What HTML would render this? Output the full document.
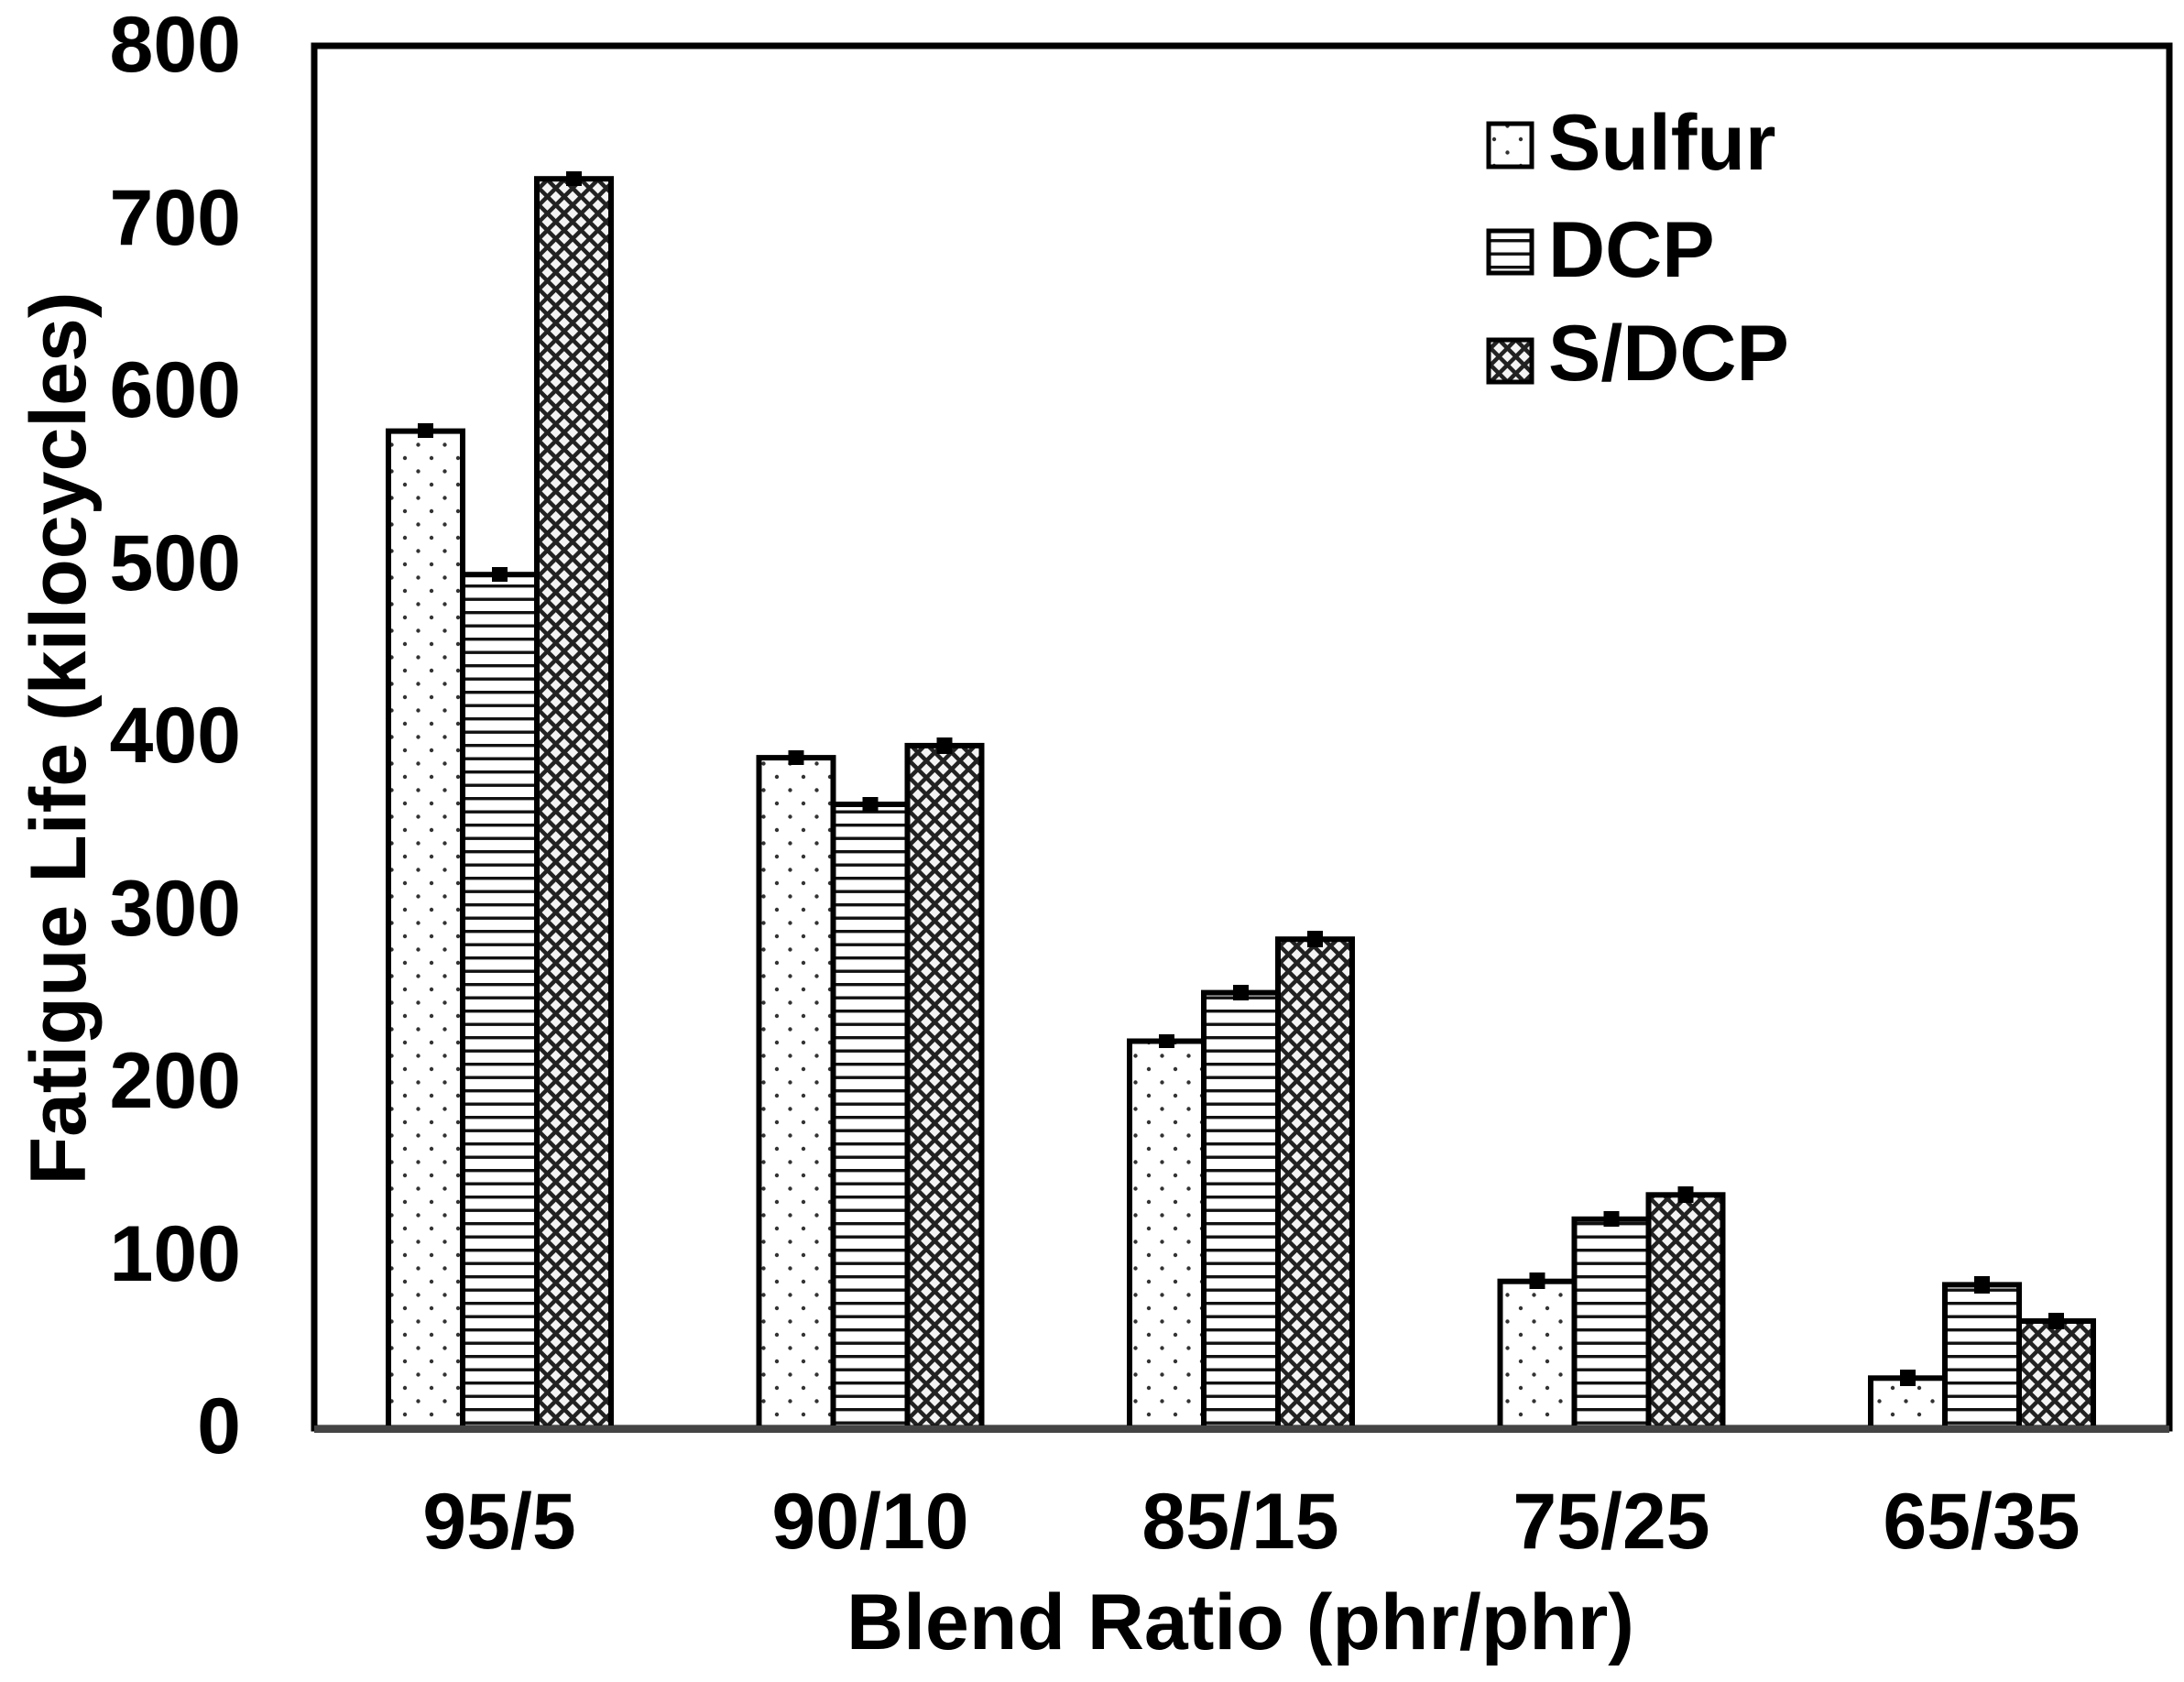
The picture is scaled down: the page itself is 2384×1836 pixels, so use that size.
<!DOCTYPE html>
<html><head><meta charset="utf-8"><style>html,body{margin:0;padding:0;background:#fff}svg{display:block}</style></head>
<body>
<svg width="2384" height="1836" viewBox="0 0 2384 1836" xmlns="http://www.w3.org/2000/svg" font-family="'Liberation Sans', Arial, sans-serif" font-weight="bold">
<defs>
<pattern id="dots" patternUnits="userSpaceOnUse" width="29" height="29">
<rect width="29" height="29" fill="#fff"/>
<circle cx="7" cy="7" r="2.2" fill="#333"/>
<circle cx="21.5" cy="21.5" r="2.2" fill="#333"/>
</pattern>
<pattern id="hlines" patternUnits="userSpaceOnUse" width="20" height="14.5">
<rect width="20" height="14.5" fill="#fff"/>
<rect y="0" width="20" height="3.4" fill="#111"/>
</pattern>
<pattern id="cross" patternUnits="userSpaceOnUse" width="13" height="13" patternTransform="rotate(45)">
<rect width="13" height="13" fill="#f4f4f4"/>
<rect x="0" y="0" width="4.5" height="13" fill="#222"/>
<rect x="0" y="0" width="13" height="4.5" fill="#222"/>
</pattern>
</defs>
<rect width="2384" height="1836" fill="#fff"/>
<g stroke="#000" stroke-width="6">
<rect x="424" y="470.6" width="81" height="1088.4" fill="url(#dots)"/>
<rect x="505" y="627.2" width="81" height="931.8" fill="url(#hlines)"/>
<rect x="586" y="195.2" width="81" height="1363.8" fill="url(#cross)"/>
<rect x="828.5" y="827.1" width="81" height="731.9" fill="url(#dots)"/>
<rect x="909.5" y="878.0" width="81" height="681.0" fill="url(#hlines)"/>
<rect x="990.5" y="813.9" width="81" height="745.1" fill="url(#cross)"/>
<rect x="1233" y="1136.5" width="81" height="422.5" fill="url(#dots)"/>
<rect x="1314" y="1083.6" width="81" height="475.4" fill="url(#hlines)"/>
<rect x="1395" y="1025.2" width="81" height="533.8" fill="url(#cross)"/>
<rect x="1637.5" y="1398.7" width="81" height="160.3" fill="url(#dots)"/>
<rect x="1718.5" y="1330.8" width="81" height="228.2" fill="url(#hlines)"/>
<rect x="1799.5" y="1304.3" width="81" height="254.7" fill="url(#cross)"/>
<rect x="2042" y="1504.3" width="81" height="54.7" fill="url(#dots)"/>
<rect x="2123" y="1402.4" width="81" height="156.6" fill="url(#hlines)"/>
<rect x="2204" y="1442.0" width="81" height="117.0" fill="url(#cross)"/>
</g>
<g fill="#000">
<rect x="456" y="462" width="17" height="16"/><rect x="537" y="619" width="17" height="16"/><rect x="618" y="187" width="17" height="16"/>
<rect x="860.5" y="819" width="17" height="16"/><rect x="941.5" y="870" width="17" height="16"/><rect x="1022.5" y="805" width="17" height="18"/>
<rect x="1265" y="1129" width="17" height="15"/><rect x="1346" y="1075" width="17" height="17"/><rect x="1427" y="1016" width="17" height="18"/>
<rect x="1669.5" y="1389" width="17" height="18"/><rect x="1750.5" y="1322" width="17" height="17"/><rect x="1831.5" y="1295" width="17" height="18"/>
<rect x="2074" y="1495" width="17" height="18"/><rect x="2155" y="1393" width="17" height="19"/><rect x="2236" y="1433" width="17" height="18"/>
</g>
<rect x="343" y="50" width="2025" height="1509" fill="none" stroke="#000" stroke-width="7"/>
<line x1="343" y1="1560" x2="2368" y2="1560" stroke="#444" stroke-width="8"/>
<g font-size="86" text-anchor="end">
<text x="263" y="78">800</text>
<text x="263" y="267">700</text>
<text x="263" y="455">600</text>
<text x="263" y="644">500</text>
<text x="263" y="832">400</text>
<text x="263" y="1021">300</text>
<text x="263" y="1209">200</text>
<text x="263" y="1398">100</text>
<text x="263" y="1586">0</text>
</g>
<g font-size="86" text-anchor="middle">
<text x="545" y="1690">95/5</text>
<text x="950" y="1690">90/10</text>
<text x="1354" y="1690">85/15</text>
<text x="1759" y="1690">75/25</text>
<text x="2163" y="1690">65/35</text>
</g>
<text x="1354" y="1800" font-size="86" text-anchor="middle">Blend Ratio (phr/phr)</text>
<text transform="translate(93,806) rotate(-90)" font-size="86" text-anchor="middle">Fatigue Life (kilocycles)</text>
<g stroke="#000" stroke-width="5">
<rect x="1625" y="135" width="47" height="47" fill="url(#dots)"/>
<rect x="1625" y="252" width="47" height="46" fill="url(#hlines)"/>
<rect x="1625" y="371" width="47" height="46" fill="url(#cross)"/>
</g>
<g font-size="86">
<text x="1690" y="185">Sulfur</text>
<text x="1690" y="302">DCP</text>
<text x="1690" y="415">S/DCP</text>
</g>
</svg>
</body></html>
